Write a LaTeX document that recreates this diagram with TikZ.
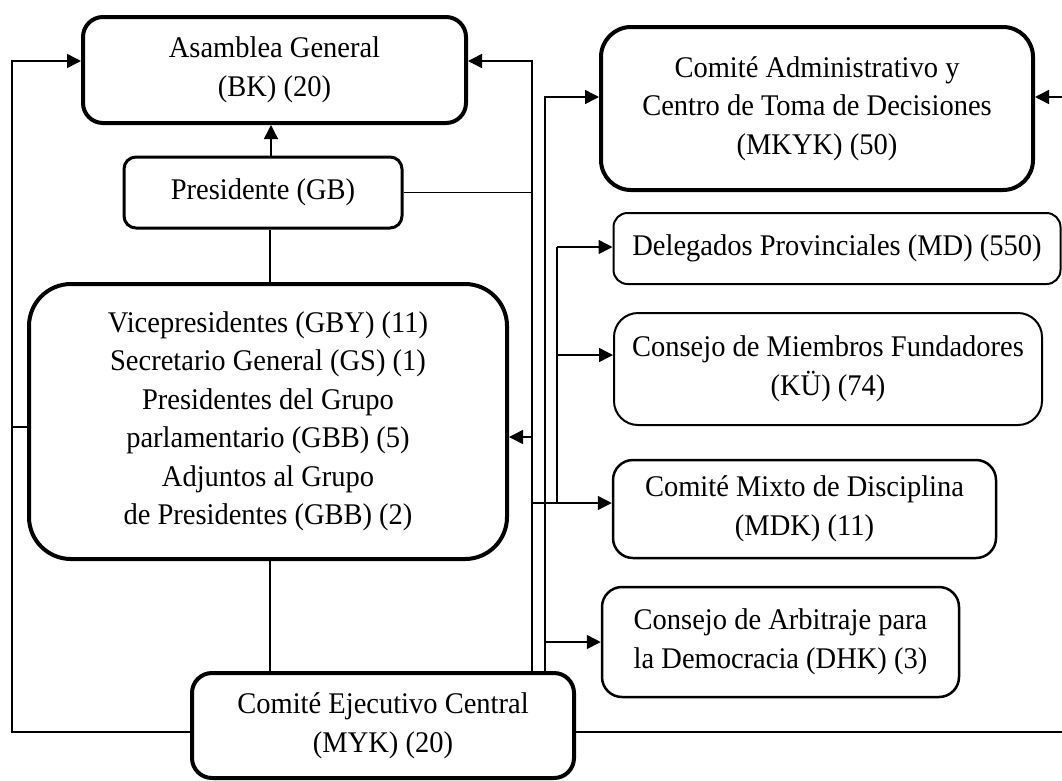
\documentclass[tikz,border=0pt]{standalone}
\usepackage{fontspec}
\setmainfont{Liberation Serif}[FakeStretch=0.95]
\usetikzlibrary{arrows.meta}
\begin{document}
\begin{tikzpicture}[x=1pt,y=-1pt,
  bx/.style={draw, align=center, inner sep=0pt, font=\fontsize{30}{38.5}\selectfont},
  conn/.style={line width=1.5pt},
  arr/.style={conn, -{Triangle[length=14pt,width=14pt]}}]
\useasboundingbox (0,0) rectangle (1062,780);
% boxes
\node[bx, line width=4pt, rounded corners=20pt, minimum width=383pt, minimum height=106pt] (ag) at (274.5,70) {Asamblea General\\(BK) (20)};
\node[bx, line width=3pt, rounded corners=12pt, minimum width=278pt, minimum height=71pt] (pr) at (263,192.5) {Presidente (GB)};
\node[bx, line width=4pt, rounded corners=42pt, minimum width=478pt, minimum height=275pt] (vp) at (268,421.5) {Vicepresidentes (GBY) (11)\\Secretario General (GS) (1)\\Presidentes del Grupo\\parlamentario (GBB) (5)\\Adjuntos al Grupo\\de Presidentes (GBB) (2)};
\node[bx, line width=4pt, rounded corners=20pt, minimum width=382pt, minimum height=105pt] (myk) at (383,725.5) {Comité Ejecutivo Central\\(MYK) (20)};
\node[bx, line width=4pt, rounded corners=30pt, minimum width=432pt, minimum height=163pt] (mkyk) at (817,108.5) {Comité Administrativo y\\Centro de Toma de Decisiones\\(MKYK) (50)};
\node[bx, line width=2pt, rounded corners=14pt, minimum width=447pt, minimum height=71pt] (md) at (837,248.5) {Delegados Provinciales (MD) (550)};
\node[bx, line width=2pt, rounded corners=24pt, minimum width=428pt, minimum height=112pt] (ku) at (828,369) {Consejo de Miembros Fundadores\\(KÜ) (74)};
\node[bx, line width=2.5pt, rounded corners=20pt, minimum width=383pt, minimum height=98pt] (mdk) at (804.5,509) {Comité Mixto de Disciplina\\(MDK) (11)};
\node[bx, line width=2.5pt, rounded corners=20pt, minimum width=357pt, minimum height=110pt] (dhk) at (780.5,642) {Consejo de Arbitraje para\\la Democracia (DHK) (3)};
% bus coordinates
\coordinate (bl) at (12,732);
\coordinate (tl) at (12,61);
\coordinate (r1) at (532,61);
\coordinate (r2) at (545,97);
\coordinate (r3) at (557,247);
\coordinate (re) at (1062,97);
\coordinate (br) at (1062,732);
% left bus
\draw[arr] (myk.west |- bl) -- (bl) -- (tl) -- (ag.west |- tl);
\draw[conn] (bl |- 0,427) -- (vp.west |- 0,427);
% central vertical
\draw[arr] (pr.north -| 271,0) -- (ag.south -| 271,0);
\draw[conn] (pr.south -| 270,0) -- (vp.north -| 270,0);
\draw[conn] (vp.south -| 270,0) -- (myk.north -| 270,0);
% right bus 1
\draw[arr] (myk.north -| r1) -- (r1) -- (ag.east |- r1);
\draw[conn] (pr.east) -- (pr.east -| r1);
\draw[arr] (r1 |- 0,437) -- (vp.east |- 0,437);
% right bus 2
\draw[arr] (myk.north -| r2) -- (r2) -- (mkyk.west |- r2);
\draw[arr] (r2 |- dhk.west) -- (dhk.west);
% right bus 3
\draw[arr] (r3) -- (md.west |- r3);
\draw[conn] (r3) -- (r3 |- 0,503);
\draw[arr] (r3 |- 0,355) -- (ku.west |- 0,355);
\draw[arr] (r1 |- 0,503) -- (mdk.west |- 0,503);
% right edge
\draw[arr] (re) -- (mkyk.east |- re);
\draw[conn] (myk.east |- br) -- (br);
\end{tikzpicture}
\end{document}
